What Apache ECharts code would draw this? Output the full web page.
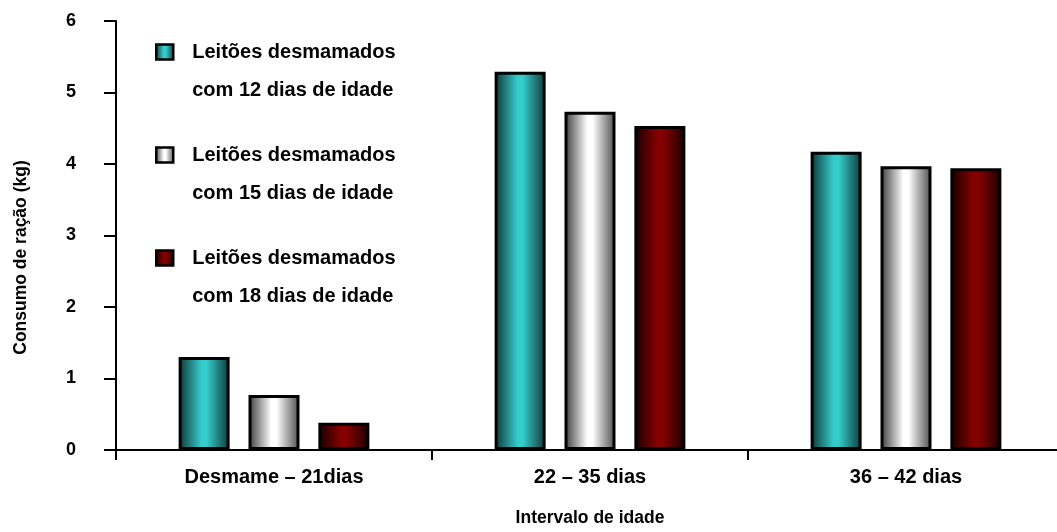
<!DOCTYPE html>
<html>
<head>
<meta charset="utf-8">
<script src="https://cdn.jsdelivr.net/npm/echarts@6/dist/echarts.min.js"></script>
<style>html,body{margin:0;padding:0;background:#fff}#c{width:1057px;height:532px}</style>
</head>
<body>
<div id="c"></div>
<script>
const categories = ['Desmame – 21dias', '22 – 35 dias', '36 – 42 dias'];
const seriesNames = [
  'Leitões desmamados\ncom 12 dias de idade',
  'Leitões desmamados\ncom 15 dias de idade',
  'Leitões desmamados\ncom 18 dias de idade'
];
const dias12 = [1.30, 5.29, 4.17];
const dias15 = [0.77, 4.73, 3.97];
const dias18 = [0.38, 4.53, 3.94];
const yTicks = [0, 1, 2, 3, 4, 5, 6];

const FONT = '"Liberation Sans", Arial, sans-serif';

function grad(edgeL, mid, edgeR) {
  return new echarts.graphic.LinearGradient(0, 0, 1, 0, [
    { offset: 0, color: edgeL },
    { offset: 0.45, color: mid },
    { offset: 0.55, color: mid },
    { offset: 1, color: edgeR }
  ]);
}
const fills = [
  grad('#0e3434', '#35cccc', '#103636'),
  grad('#3a3a3a', '#ffffff', '#4a4a4a'),
  grad('#150000', '#860000', '#1a0000')
];
const dataSets = [dias12, dias15, dias18];

const chart = echarts.init(document.getElementById('c'), null, { renderer: 'canvas' });
chart.setOption({
  animation: false,
  backgroundColor: '#ffffff',
  textStyle: { fontFamily: FONT },
  grid: { left: 116, width: 948, top: 21, bottom: 82, containLabel: false, outerBoundsMode: 'none' },
  legend: {
    orient: 'vertical',
    left: 155,
    top: -5,
    padding: 0,
    itemGap: -11,
    itemWidth: 17,
    itemHeight: 15,
    icon: 'rect',
    selectedMode: false,
    itemStyle: { borderColor: '#000', borderWidth: 2.5 },
    formatter: function (n) { return '\n' + n; },
    textStyle: {
      fontFamily: FONT,
      fontWeight: 'bold',
      fontSize: 20,
      color: '#000',
      lineHeight: 38,
      padding: [0, 0, 0, 14]
    },
    data: seriesNames
  },
  xAxis: {
    type: 'category',
    data: categories,
    boundaryGap: true,
    name: 'Intervalo de idade',
    nameLocation: 'middle',
    nameGap: 59,
    nameTextStyle: { fontFamily: FONT, fontWeight: 'bold', fontSize: 17.5, color: '#000' },
    axisLine: { lineStyle: { color: '#000', width: 2 } },
    axisTick: { show: true, length: 10, lineStyle: { color: '#000', width: 2 }, interval: 0 },
    axisLabel: { margin: 17, fontFamily: FONT, fontWeight: 'bold', fontSize: 20, color: '#000', interval: 0 }
  },
  yAxis: {
    type: 'value',
    min: yTicks[0],
    max: yTicks[yTicks.length - 1],
    interval: 1,
    name: 'Consumo de ração (kg)',
    nameLocation: 'middle',
    nameGap: 86,
    nameTextStyle: { fontFamily: FONT, fontWeight: 'bold', fontSize: 17.5, color: '#000', padding: [0, 44, 0, 0] },
    splitLine: { show: false },
    axisLine: { show: true, lineStyle: { color: '#000', width: 2 } },
    axisTick: { show: true, length: 12, lineStyle: { color: '#000', width: 2 } },
    axisLabel: { margin: 40, fontFamily: FONT, fontWeight: 'bold', fontSize: 18, color: '#000' }
  },
  series: seriesNames.map((n, i) => ({
    name: n,
    type: 'bar',
    data: dataSets[i],
    barWidth: 51,
    barGap: '37%',
    itemStyle: { color: fills[i], borderColor: '#000', borderWidth: 3 }
  }))
});
</script>
</body>
</html>
